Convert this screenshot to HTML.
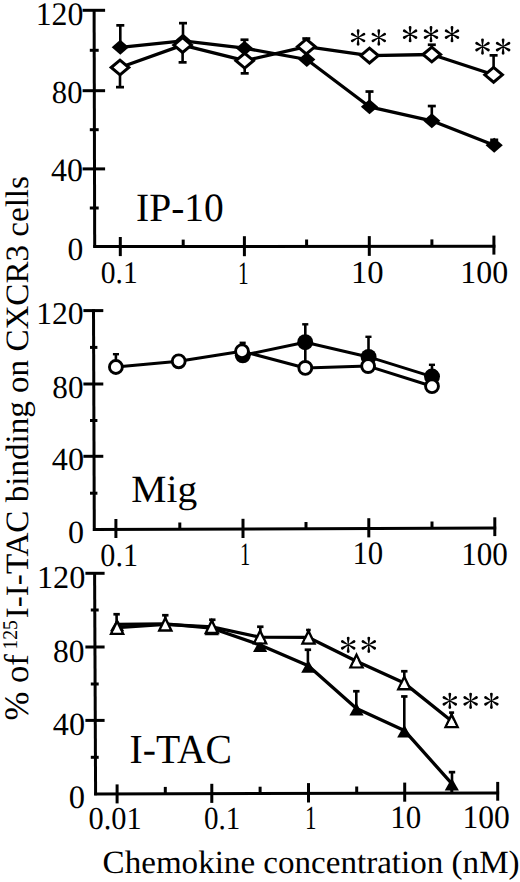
<!DOCTYPE html>
<html><head><meta charset="utf-8"><style>
html,body{margin:0;padding:0;background:#fff;}
body{width:520px;height:882px;overflow:hidden;}
svg{display:block;}
text{font-family:"Liberation Serif",serif;fill:#000;stroke:none;text-rendering:geometricPrecision;}
</style></head><body>
<svg width="520" height="882" viewBox="0 0 520 882">
<rect width="520" height="882" fill="#fff"/>
<g stroke="#000" fill="#000" stroke-linecap="butt">
<line x1="94.1" y1="8.9" x2="94.7" y2="247.8" stroke-width="3.0"/>
<line x1="82.6" y1="10.3" x2="105.1" y2="10.3" stroke-width="3.0"/>
<line x1="82.6" y1="90.7" x2="105.1" y2="90.7" stroke-width="3.0"/>
<line x1="82.6" y1="168.9" x2="105.1" y2="168.9" stroke-width="3.0"/>
<line x1="89.8" y1="50.3" x2="98.7" y2="50.3" stroke-width="3.0"/>
<line x1="89.8" y1="129.7" x2="98.7" y2="129.7" stroke-width="3.0"/>
<line x1="89.8" y1="208.0" x2="98.7" y2="208.0" stroke-width="3.0"/>
<line x1="93.3" y1="246.5" x2="495.4" y2="246.2" stroke-width="3.0"/>
<line x1="120.3" y1="237.0" x2="120.3" y2="256.1" stroke-width="3.0"/>
<line x1="244.4" y1="236.2" x2="244.4" y2="256.2" stroke-width="3.0"/>
<line x1="369.3" y1="236.1" x2="369.3" y2="255.9" stroke-width="3.0"/>
<line x1="493.9" y1="235.6" x2="493.9" y2="254.6" stroke-width="3.0"/>
<line x1="183.2" y1="239.6" x2="183.2" y2="246.4" stroke-width="3.0"/>
<line x1="306.6" y1="239.5" x2="306.6" y2="246.3" stroke-width="3.0"/>
<line x1="431.9" y1="239.4" x2="431.9" y2="246.2" stroke-width="3.0"/>
<line x1="93.5" y1="309.2" x2="94.3" y2="531.0" stroke-width="3.0"/>
<line x1="83.4" y1="310.6" x2="103.3" y2="310.6" stroke-width="3.0"/>
<line x1="83.4" y1="384.0" x2="103.3" y2="384.0" stroke-width="3.0"/>
<line x1="83.4" y1="456.3" x2="103.3" y2="456.3" stroke-width="3.0"/>
<line x1="90.0" y1="347.4" x2="97.4" y2="347.4" stroke-width="3.0"/>
<line x1="90.0" y1="420.5" x2="97.4" y2="420.5" stroke-width="3.0"/>
<line x1="90.0" y1="493.2" x2="97.4" y2="493.2" stroke-width="3.0"/>
<line x1="92.9" y1="529.6" x2="496.2" y2="528.1" stroke-width="3.0"/>
<line x1="115.9" y1="519.0" x2="115.9" y2="538.0" stroke-width="3.0"/>
<line x1="243.0" y1="518.8" x2="243.0" y2="538.0" stroke-width="3.0"/>
<line x1="368.8" y1="518.2" x2="368.8" y2="537.4" stroke-width="3.0"/>
<line x1="494.8" y1="517.3" x2="494.8" y2="536.1" stroke-width="3.0"/>
<line x1="179.8" y1="522.5" x2="179.8" y2="529.3" stroke-width="3.0"/>
<line x1="306.0" y1="522.0" x2="306.0" y2="528.8" stroke-width="3.0"/>
<line x1="432.0" y1="521.5" x2="432.0" y2="528.3" stroke-width="3.0"/>
<line x1="94.6" y1="571.9" x2="95.6" y2="795.3" stroke-width="3.0"/>
<line x1="85.4" y1="573.3" x2="104.6" y2="573.3" stroke-width="3.0"/>
<line x1="85.4" y1="647.0" x2="104.6" y2="647.0" stroke-width="3.0"/>
<line x1="85.4" y1="720.4" x2="104.6" y2="720.4" stroke-width="3.0"/>
<line x1="90.8" y1="610.0" x2="98.7" y2="610.0" stroke-width="3.0"/>
<line x1="90.8" y1="684.0" x2="98.7" y2="684.0" stroke-width="3.0"/>
<line x1="90.8" y1="757.3" x2="98.7" y2="757.3" stroke-width="3.0"/>
<line x1="94.2" y1="793.9" x2="499.1" y2="793.0" stroke-width="3.0"/>
<line x1="117.1" y1="784.4" x2="117.1" y2="803.4" stroke-width="3.0"/>
<line x1="211.8" y1="783.8" x2="211.8" y2="802.9" stroke-width="3.0"/>
<line x1="308.5" y1="783.1" x2="308.5" y2="802.5" stroke-width="3.0"/>
<line x1="404.7" y1="782.6" x2="404.7" y2="801.7" stroke-width="3.0"/>
<line x1="497.7" y1="781.9" x2="497.7" y2="800.7" stroke-width="3.0"/>
<line x1="165.3" y1="786.9" x2="165.3" y2="793.7" stroke-width="3.0"/>
<line x1="260.1" y1="786.7" x2="260.1" y2="793.5" stroke-width="3.0"/>
<line x1="356.7" y1="786.5" x2="356.7" y2="793.3" stroke-width="3.0"/>
<line x1="451.8" y1="786.3" x2="451.8" y2="793.1" stroke-width="3.0"/>
<text x="35.70" y="24.57" font-size="32.89" textLength="47.71" lengthAdjust="spacingAndGlyphs" >120</text>
<text x="51.84" y="103.48" font-size="32.00" textLength="30.63" lengthAdjust="spacingAndGlyphs" >80</text>
<text x="51.06" y="181.37" font-size="32.74" textLength="31.95" lengthAdjust="spacingAndGlyphs" >40</text>
<text x="67.50" y="259.68" font-size="32.44" textLength="15.80" lengthAdjust="spacingAndGlyphs" >0</text>
<text x="100.78" y="283.36" font-size="31.37" textLength="37.00" lengthAdjust="spacingAndGlyphs" >0.1</text>
<text x="237.93" y="283.80" font-size="32.58" textLength="10.65" lengthAdjust="spacingAndGlyphs" >1</text>
<text x="350.92" y="283.38" font-size="32.00" textLength="32.72" lengthAdjust="spacingAndGlyphs" >10</text>
<text x="460.29" y="282.78" font-size="32.00" textLength="47.82" lengthAdjust="spacingAndGlyphs" >100</text>
<text x="36.21" y="324.08" font-size="31.56" textLength="47.49" lengthAdjust="spacingAndGlyphs" >120</text>
<text x="52.32" y="397.58" font-size="32.07" textLength="31.17" lengthAdjust="spacingAndGlyphs" >80</text>
<text x="51.86" y="470.28" font-size="32.44" textLength="32.17" lengthAdjust="spacingAndGlyphs" >40</text>
<text x="67.98" y="543.48" font-size="32.44" textLength="16.04" lengthAdjust="spacingAndGlyphs" >0</text>
<text x="100.36" y="565.75" font-size="32.40" textLength="37.65" lengthAdjust="spacingAndGlyphs" >0.1</text>
<text x="240.00" y="565.40" font-size="32.73" textLength="10.23" lengthAdjust="spacingAndGlyphs" >1</text>
<text x="352.39" y="564.47" font-size="32.74" textLength="30.78" lengthAdjust="spacingAndGlyphs" >10</text>
<text x="461.27" y="564.87" font-size="32.74" textLength="46.62" lengthAdjust="spacingAndGlyphs" >100</text>
<text x="36.96" y="588.48" font-size="32.00" textLength="48.47" lengthAdjust="spacingAndGlyphs" >120</text>
<text x="53.00" y="662.08" font-size="32.30" textLength="31.49" lengthAdjust="spacingAndGlyphs" >80</text>
<text x="52.86" y="734.68" font-size="32.30" textLength="32.11" lengthAdjust="spacingAndGlyphs" >40</text>
<text x="68.76" y="808.17" font-size="32.59" textLength="16.27" lengthAdjust="spacingAndGlyphs" >0</text>
<text x="88.45" y="829.35" font-size="31.96" textLength="53.18" lengthAdjust="spacingAndGlyphs" >0.01</text>
<text x="203.89" y="828.75" font-size="32.25" textLength="36.35" lengthAdjust="spacingAndGlyphs" >0.1</text>
<text x="305.08" y="828.90" font-size="33.64" textLength="11.51" lengthAdjust="spacingAndGlyphs" >1</text>
<text x="390.37" y="828.48" font-size="32.44" textLength="31.01" lengthAdjust="spacingAndGlyphs" >10</text>
<text x="462.43" y="828.37" font-size="32.89" textLength="47.27" lengthAdjust="spacingAndGlyphs" >100</text>
<text x="136.08" y="220.70" font-size="40.15" textLength="87.73" lengthAdjust="spacingAndGlyphs" >IP-10</text>
<text x="131.35" y="501.64" font-size="38.72" textLength="65.90" lengthAdjust="spacingAndGlyphs" >Mig</text>
<text x="129.57" y="763.29" font-size="41.22" textLength="102.40" lengthAdjust="spacingAndGlyphs" >I-TAC</text>
<line x1="120.3" y1="47.9" x2="120.3" y2="25.4" stroke-width="2.6"/>
<rect x="116.3" y="24.0" width="8.0" height="2.7" stroke="none"/>
<line x1="183.0" y1="44.5" x2="183.0" y2="23.1" stroke-width="2.6"/>
<rect x="179.0" y="21.8" width="8.0" height="2.7" stroke="none"/>
<line x1="244.5" y1="48.6" x2="244.5" y2="39.7" stroke-width="2.6"/>
<rect x="240.5" y="38.4" width="8.0" height="2.7" stroke="none"/>
<line x1="369.5" y1="107.3" x2="369.5" y2="91.5" stroke-width="2.6"/>
<rect x="365.5" y="90.2" width="8.0" height="2.7" stroke="none"/>
<line x1="431.8" y1="120.3" x2="431.8" y2="106.0" stroke-width="2.6"/>
<rect x="427.8" y="104.7" width="8.0" height="2.7" stroke="none"/>
<line x1="494.2" y1="146.5" x2="494.2" y2="139.8" stroke-width="2.6"/>
<rect x="490.2" y="138.5" width="8.0" height="2.7" stroke="none"/>
<line x1="120.0" y1="67.5" x2="120.0" y2="87.1" stroke-width="2.6"/>
<rect x="116.0" y="85.8" width="8.0" height="2.7" stroke="none"/>
<line x1="182.6" y1="44.3" x2="182.6" y2="62.4" stroke-width="2.6"/>
<rect x="178.6" y="61.0" width="8.0" height="2.7" stroke="none"/>
<line x1="244.7" y1="61.5" x2="244.7" y2="73.3" stroke-width="2.6"/>
<rect x="240.7" y="72.0" width="8.0" height="2.7" stroke="none"/>
<line x1="306.3" y1="46.8" x2="306.3" y2="38.6" stroke-width="2.6"/>
<rect x="302.3" y="37.2" width="8.0" height="2.7" stroke="none"/>
<line x1="431.8" y1="54.7" x2="431.8" y2="44.7" stroke-width="2.6"/>
<rect x="427.8" y="43.4" width="8.0" height="2.7" stroke="none"/>
<line x1="493.6" y1="75.0" x2="493.6" y2="55.4" stroke-width="2.6"/>
<rect x="489.6" y="54.0" width="8.0" height="2.7" stroke="none"/>
<polyline points="120.3,47.3 183.0,40.9 244.5,48.2 306.8,59.5 369.5,106.8 431.8,120.8 494.2,145.3" fill="none" stroke-width="3.3" stroke-linejoin="round"/>
<polyline points="120.0,67.5 182.6,45.1 244.7,60.7 306.3,46.6 369.5,55.6 431.8,54.5 493.6,74.8" fill="none" stroke-width="3.3" stroke-linejoin="round"/>
<path d="M111.7,47.3L120.3,39.8L128.9,47.3L120.3,54.8Z" stroke="none"/>
<path d="M174.4,40.9L183.0,33.4L191.6,40.9L183.0,48.4Z" stroke="none"/>
<path d="M235.9,48.2L244.5,40.7L253.1,48.2L244.5,55.7Z" stroke="none"/>
<path d="M298.2,59.5L306.8,52.0L315.4,59.5L306.8,67.0Z" stroke="none"/>
<path d="M360.9,106.8L369.5,99.3L378.1,106.8L369.5,114.3Z" stroke="none"/>
<path d="M423.2,120.8L431.8,113.3L440.4,120.8L431.8,128.3Z" stroke="none"/>
<path d="M485.6,145.3L494.2,137.8L502.8,145.3L494.2,152.8Z" stroke="none"/>
<path d="M111.2,67.5L120.0,60.1L128.8,67.5L120.0,74.9Z" fill="#fff" stroke-width="3.0" stroke-linejoin="miter"/>
<path d="M173.8,45.1L182.6,37.7L191.4,45.1L182.6,52.5Z" fill="#fff" stroke-width="3.0" stroke-linejoin="miter"/>
<path d="M235.9,60.7L244.7,53.3L253.5,60.7L244.7,68.1Z" fill="#fff" stroke-width="3.0" stroke-linejoin="miter"/>
<path d="M297.5,46.6L306.3,39.2L315.1,46.6L306.3,54.0Z" fill="#fff" stroke-width="3.0" stroke-linejoin="miter"/>
<path d="M360.7,55.6L369.5,48.2L378.3,55.6L369.5,63.0Z" fill="#fff" stroke-width="3.0" stroke-linejoin="miter"/>
<path d="M423.0,54.5L431.8,47.1L440.6,54.5L431.8,61.9Z" fill="#fff" stroke-width="3.0" stroke-linejoin="miter"/>
<path d="M484.8,74.8L493.6,67.4L502.4,74.8L493.6,82.2Z" fill="#fff" stroke-width="3.0" stroke-linejoin="miter"/>
<path d="M358.45,37.50L359.50,30.75A1.4,1.4 0 0 0 356.70,30.75L357.75,37.50ZM358.28,37.20L352.95,32.91A1.4,1.4 0 0 0 351.55,35.34L357.93,37.80ZM357.93,37.20L351.55,39.66A1.4,1.4 0 0 0 352.95,42.09L358.28,37.80ZM357.75,37.50L356.70,44.25A1.4,1.4 0 0 0 359.50,44.25L358.45,37.50ZM357.93,37.80L363.25,42.09A1.4,1.4 0 0 0 364.65,39.66L358.28,37.20ZM358.28,37.80L364.65,35.34A1.4,1.4 0 0 0 363.25,32.91L357.93,37.20Z" stroke="none" fill="#000"/>
<path d="M379.15,37.50L380.20,30.75A1.4,1.4 0 0 0 377.40,30.75L378.45,37.50ZM378.98,37.20L373.65,32.91A1.4,1.4 0 0 0 372.25,35.34L378.62,37.80ZM378.62,37.20L372.25,39.66A1.4,1.4 0 0 0 373.65,42.09L378.98,37.80ZM378.45,37.50L377.40,44.25A1.4,1.4 0 0 0 380.20,44.25L379.15,37.50ZM378.62,37.80L383.95,42.09A1.4,1.4 0 0 0 385.35,39.66L378.98,37.20ZM378.98,37.80L385.35,35.34A1.4,1.4 0 0 0 383.95,32.91L378.62,37.20Z" stroke="none" fill="#000"/>
<path d="M410.45,34.20L411.50,27.45A1.4,1.4 0 0 0 408.70,27.45L409.75,34.20ZM410.28,33.90L404.95,29.61A1.4,1.4 0 0 0 403.55,32.04L409.93,34.50ZM409.93,33.90L403.55,36.36A1.4,1.4 0 0 0 404.95,38.79L410.28,34.50ZM409.75,34.20L408.70,40.95A1.4,1.4 0 0 0 411.50,40.95L410.45,34.20ZM409.93,34.50L415.25,38.79A1.4,1.4 0 0 0 416.65,36.36L410.28,33.90ZM410.28,34.50L416.65,32.04A1.4,1.4 0 0 0 415.25,29.61L409.93,33.90Z" stroke="none" fill="#000"/>
<path d="M431.35,34.20L432.40,27.45A1.4,1.4 0 0 0 429.60,27.45L430.65,34.20ZM431.18,33.90L425.85,29.61A1.4,1.4 0 0 0 424.45,32.04L430.82,34.50ZM430.82,33.90L424.45,36.36A1.4,1.4 0 0 0 425.85,38.79L431.18,34.50ZM430.65,34.20L429.60,40.95A1.4,1.4 0 0 0 432.40,40.95L431.35,34.20ZM430.82,34.50L436.15,38.79A1.4,1.4 0 0 0 437.55,36.36L431.18,33.90ZM431.18,34.50L437.55,32.04A1.4,1.4 0 0 0 436.15,29.61L430.82,33.90Z" stroke="none" fill="#000"/>
<path d="M452.35,34.20L453.40,27.45A1.4,1.4 0 0 0 450.60,27.45L451.65,34.20ZM452.18,33.90L446.85,29.61A1.4,1.4 0 0 0 445.45,32.04L451.82,34.50ZM451.82,33.90L445.45,36.36A1.4,1.4 0 0 0 446.85,38.79L452.18,34.50ZM451.65,34.20L450.60,40.95A1.4,1.4 0 0 0 453.40,40.95L452.35,34.20ZM451.82,34.50L457.15,38.79A1.4,1.4 0 0 0 458.55,36.36L452.18,33.90ZM452.18,34.50L458.55,32.04A1.4,1.4 0 0 0 457.15,29.61L451.82,33.90Z" stroke="none" fill="#000"/>
<path d="M482.85,46.60L483.90,39.85A1.4,1.4 0 0 0 481.10,39.85L482.15,46.60ZM482.68,46.30L477.35,42.01A1.4,1.4 0 0 0 475.95,44.44L482.32,46.90ZM482.32,46.30L475.95,48.76A1.4,1.4 0 0 0 477.35,51.19L482.68,46.90ZM482.15,46.60L481.10,53.35A1.4,1.4 0 0 0 483.90,53.35L482.85,46.60ZM482.32,46.90L487.65,51.19A1.4,1.4 0 0 0 489.05,48.76L482.68,46.30ZM482.68,46.90L489.05,44.44A1.4,1.4 0 0 0 487.65,42.01L482.32,46.30Z" stroke="none" fill="#000"/>
<path d="M503.45,46.60L504.50,39.85A1.4,1.4 0 0 0 501.70,39.85L502.75,46.60ZM503.28,46.30L497.95,42.01A1.4,1.4 0 0 0 496.55,44.44L502.93,46.90ZM502.93,46.30L496.55,48.76A1.4,1.4 0 0 0 497.95,51.19L503.28,46.90ZM502.75,46.60L501.70,53.35A1.4,1.4 0 0 0 504.50,53.35L503.45,46.60ZM502.93,46.90L508.25,51.19A1.4,1.4 0 0 0 509.65,48.76L503.28,46.30ZM503.28,46.90L509.65,44.44A1.4,1.4 0 0 0 508.25,42.01L502.93,46.30Z" stroke="none" fill="#000"/>
<line x1="115.9" y1="367.0" x2="115.9" y2="354.2" stroke-width="2.6"/>
<rect x="112.9" y="353.0" width="6.1" height="2.4" stroke="none"/>
<line x1="242.7" y1="351.3" x2="242.7" y2="342.8" stroke-width="2.6"/>
<rect x="239.6" y="341.6" width="6.1" height="2.4" stroke="none"/>
<line x1="305.3" y1="342.2" x2="305.3" y2="324.3" stroke-width="2.6"/>
<rect x="302.2" y="323.1" width="6.1" height="2.4" stroke="none"/>
<line x1="305.3" y1="342.2" x2="305.3" y2="367.9" stroke-width="2.6"/>
<line x1="368.5" y1="356.9" x2="368.5" y2="336.8" stroke-width="2.6"/>
<rect x="365.4" y="335.6" width="6.1" height="2.4" stroke="none"/>
<line x1="432.0" y1="376.6" x2="432.0" y2="364.8" stroke-width="2.6"/>
<rect x="428.9" y="363.6" width="6.1" height="2.4" stroke="none"/>
<polyline points="242.8,355.3 305.2,342.2 368.6,356.9 432.0,376.6" fill="none" stroke-width="3.05" stroke-linejoin="round"/>
<polyline points="115.9,367.0 178.7,361.3 242.0,351.3 305.3,367.9 368.1,366.1 432.0,386.2" fill="none" stroke-width="3.05" stroke-linejoin="round"/>
<circle cx="242.8" cy="355.3" r="8.0" stroke="none"/>
<circle cx="305.2" cy="342.2" r="8.0" stroke="none"/>
<circle cx="368.6" cy="356.9" r="8.0" stroke="none"/>
<circle cx="432.0" cy="376.6" r="8.0" stroke="none"/>
<circle cx="115.9" cy="367.0" r="6.45" fill="#fff" stroke-width="2.9"/>
<circle cx="178.7" cy="361.3" r="6.45" fill="#fff" stroke-width="2.9"/>
<circle cx="242.0" cy="351.3" r="6.45" fill="#fff" stroke-width="2.9"/>
<circle cx="305.3" cy="367.9" r="6.45" fill="#fff" stroke-width="2.9"/>
<circle cx="368.1" cy="366.1" r="6.45" fill="#fff" stroke-width="2.9"/>
<circle cx="432.0" cy="386.2" r="6.45" fill="#fff" stroke-width="2.9"/>
<line x1="116.6" y1="624.2" x2="116.6" y2="614.2" stroke-width="2.6"/>
<rect x="113.4" y="612.9" width="6.4" height="2.7" stroke="none"/>
<line x1="165.3" y1="622.6" x2="165.3" y2="615.2" stroke-width="2.6"/>
<rect x="162.1" y="613.9" width="6.4" height="2.7" stroke="none"/>
<line x1="212.3" y1="626.8" x2="212.3" y2="619.8" stroke-width="2.6"/>
<rect x="209.1" y="618.4" width="6.4" height="2.7" stroke="none"/>
<line x1="260.3" y1="637.2" x2="260.3" y2="626.7" stroke-width="2.6"/>
<rect x="257.1" y="625.4" width="6.4" height="2.7" stroke="none"/>
<line x1="308.4" y1="637.4" x2="308.4" y2="630.0" stroke-width="2.6"/>
<rect x="306.1" y="628.7" width="4.6" height="2.6" stroke="none"/>
<line x1="404.3" y1="683.1" x2="404.3" y2="671.2" stroke-width="2.6"/>
<rect x="401.1" y="669.9" width="6.4" height="2.7" stroke="none"/>
<line x1="451.6" y1="721.0" x2="451.6" y2="712.6" stroke-width="2.6"/>
<rect x="449.1" y="711.3" width="5.0" height="2.6" stroke="none"/>
<line x1="307.9" y1="665.6" x2="307.9" y2="649.7" stroke-width="2.6"/>
<rect x="304.7" y="648.4" width="6.4" height="2.7" stroke="none"/>
<line x1="356.3" y1="707.9" x2="356.3" y2="691.3" stroke-width="2.6"/>
<rect x="353.1" y="689.9" width="6.4" height="2.7" stroke="none"/>
<line x1="404.3" y1="730.4" x2="404.3" y2="696.5" stroke-width="2.6"/>
<rect x="401.1" y="695.1" width="6.4" height="2.7" stroke="none"/>
<line x1="452.0" y1="783.4" x2="452.0" y2="772.1" stroke-width="2.6"/>
<rect x="448.8" y="770.8" width="6.4" height="2.7" stroke="none"/>
<polyline points="117.1,624.3 165.3,623.9 211.8,628.2 260.1,645.0 308.3,665.8 356.5,708.6 404.3,730.4 451.8,783.6" fill="none" stroke-width="3.3" stroke-linejoin="round"/>
<polyline points="117.1,627.6 165.3,624.4 211.8,626.8 260.1,637.2 308.5,637.4 356.5,661.2 404.3,683.1 451.6,721.0" fill="none" stroke-width="3.3" stroke-linejoin="round"/>
<path d="M117.1,618.7L124.2,631.3L110.0,631.3Z" stroke="none"/>
<path d="M165.3,618.3L172.4,630.9L158.2,630.9Z" stroke="none"/>
<path d="M211.8,622.6L218.9,635.2L204.7,635.2Z" stroke="none"/>
<path d="M260.1,639.4L267.2,652.0L253.0,652.0Z" stroke="none"/>
<path d="M308.3,660.2L315.4,672.8L301.2,672.8Z" stroke="none"/>
<path d="M356.5,703.0L363.6,715.6L349.4,715.6Z" stroke="none"/>
<path d="M404.3,724.8L411.4,737.4L397.2,737.4Z" stroke="none"/>
<path d="M451.8,778.0L458.9,790.6L444.7,790.6Z" stroke="none"/>
<path d="M117.10,618.45L125.05,634.95L109.15,634.95Z M117.10,623.98L112.97,632.55L121.23,632.55Z" stroke="none" fill="#000"/>
<path d="M117.10,623.98L112.97,632.55L121.23,632.55Z" stroke="none" fill="#fff"/>
<path d="M165.30,615.25L173.25,631.75L157.35,631.75Z M165.30,620.78L161.17,629.35L169.43,629.35Z" stroke="none" fill="#000"/>
<path d="M165.30,620.78L161.17,629.35L169.43,629.35Z" stroke="none" fill="#fff"/>
<path d="M211.80,617.65L219.75,634.15L203.85,634.15Z M211.80,623.18L207.67,631.75L215.93,631.75Z" stroke="none" fill="#000"/>
<path d="M211.80,623.18L207.67,631.75L215.93,631.75Z" stroke="none" fill="#fff"/>
<path d="M260.10,628.05L268.05,644.55L252.15,644.55Z M260.10,633.58L255.97,642.15L264.23,642.15Z" stroke="none" fill="#000"/>
<path d="M260.10,633.58L255.97,642.15L264.23,642.15Z" stroke="none" fill="#fff"/>
<path d="M308.50,628.25L316.45,644.75L300.55,644.75Z M308.50,633.78L304.37,642.35L312.63,642.35Z" stroke="none" fill="#000"/>
<path d="M308.50,633.78L304.37,642.35L312.63,642.35Z" stroke="none" fill="#fff"/>
<path d="M356.50,652.05L364.45,668.55L348.55,668.55Z M356.50,657.58L352.37,666.15L360.63,666.15Z" stroke="none" fill="#000"/>
<path d="M356.50,657.58L352.37,666.15L360.63,666.15Z" stroke="none" fill="#fff"/>
<path d="M404.30,673.95L412.25,690.45L396.35,690.45Z M404.30,679.48L400.17,688.05L408.43,688.05Z" stroke="none" fill="#000"/>
<path d="M404.30,679.48L400.17,688.05L408.43,688.05Z" stroke="none" fill="#fff"/>
<path d="M451.60,711.85L459.55,728.35L443.65,728.35Z M451.60,717.38L447.47,725.95L455.73,725.95Z" stroke="none" fill="#000"/>
<path d="M451.60,717.38L447.47,725.95L455.73,725.95Z" stroke="none" fill="#fff"/>
<path d="M348.55,644.80L349.60,638.05A1.4,1.4 0 0 0 346.80,638.05L347.85,644.80ZM348.38,644.50L343.05,640.21A1.4,1.4 0 0 0 341.65,642.64L348.02,645.10ZM348.02,644.50L341.65,646.96A1.4,1.4 0 0 0 343.05,649.39L348.38,645.10ZM347.85,644.80L346.80,651.55A1.4,1.4 0 0 0 349.60,651.55L348.55,644.80ZM348.02,645.10L353.35,649.39A1.4,1.4 0 0 0 354.75,646.96L348.38,644.50ZM348.38,645.10L354.75,642.64A1.4,1.4 0 0 0 353.35,640.21L348.02,644.50Z" stroke="none" fill="#000"/>
<path d="M369.15,644.80L370.20,638.05A1.4,1.4 0 0 0 367.40,638.05L368.45,644.80ZM368.98,644.50L363.65,640.21A1.4,1.4 0 0 0 362.25,642.64L368.62,645.10ZM368.62,644.50L362.25,646.96A1.4,1.4 0 0 0 363.65,649.39L368.98,645.10ZM368.45,644.80L367.40,651.55A1.4,1.4 0 0 0 370.20,651.55L369.15,644.80ZM368.62,645.10L373.95,649.39A1.4,1.4 0 0 0 375.35,646.96L368.98,644.50ZM368.98,645.10L375.35,642.64A1.4,1.4 0 0 0 373.95,640.21L368.62,644.50Z" stroke="none" fill="#000"/>
<path d="M450.15,700.80L451.20,694.05A1.4,1.4 0 0 0 448.40,694.05L449.45,700.80ZM449.98,700.50L444.65,696.21A1.4,1.4 0 0 0 443.25,698.64L449.62,701.10ZM449.62,700.50L443.25,702.96A1.4,1.4 0 0 0 444.65,705.39L449.98,701.10ZM449.45,700.80L448.40,707.55A1.4,1.4 0 0 0 451.20,707.55L450.15,700.80ZM449.62,701.10L454.95,705.39A1.4,1.4 0 0 0 456.35,702.96L449.98,700.50ZM449.98,701.10L456.35,698.64A1.4,1.4 0 0 0 454.95,696.21L449.62,700.50Z" stroke="none" fill="#000"/>
<path d="M470.95,700.80L472.00,694.05A1.4,1.4 0 0 0 469.20,694.05L470.25,700.80ZM470.78,700.50L465.45,696.21A1.4,1.4 0 0 0 464.05,698.64L470.43,701.10ZM470.43,700.50L464.05,702.96A1.4,1.4 0 0 0 465.45,705.39L470.78,701.10ZM470.25,700.80L469.20,707.55A1.4,1.4 0 0 0 472.00,707.55L470.95,700.80ZM470.43,701.10L475.75,705.39A1.4,1.4 0 0 0 477.15,702.96L470.78,700.50ZM470.78,701.10L477.15,698.64A1.4,1.4 0 0 0 475.75,696.21L470.43,700.50Z" stroke="none" fill="#000"/>
<path d="M491.75,700.80L492.80,694.05A1.4,1.4 0 0 0 490.00,694.05L491.05,700.80ZM491.57,700.50L486.25,696.21A1.4,1.4 0 0 0 484.85,698.64L491.22,701.10ZM491.22,700.50L484.85,702.96A1.4,1.4 0 0 0 486.25,705.39L491.57,701.10ZM491.05,700.80L490.00,707.55A1.4,1.4 0 0 0 492.80,707.55L491.75,700.80ZM491.22,701.10L496.55,705.39A1.4,1.4 0 0 0 497.95,702.96L491.57,700.50ZM491.57,701.10L497.95,698.64A1.4,1.4 0 0 0 496.55,696.21L491.22,700.50Z" stroke="none" fill="#000"/>
<text x="102.64" y="872.60" font-size="32.41" textLength="416.92" lengthAdjust="spacingAndGlyphs">Chemokine concentration (nM)</text>
<text transform="rotate(-90)" x="-720.48" y="28.25" font-size="34.31" textLength="66.28" lengthAdjust="spacingAndGlyphs">% of</text>
<text transform="rotate(-90)" x="-649.52" y="16.49" font-size="20.98" textLength="29.39" lengthAdjust="spacingAndGlyphs">125</text>
<text transform="rotate(-90)" x="-618.19" y="27.67" font-size="32.53" textLength="442.09" lengthAdjust="spacingAndGlyphs">I-I-TAC binding on CXCR3 cells</text>
</g>
</svg>
</body></html>
